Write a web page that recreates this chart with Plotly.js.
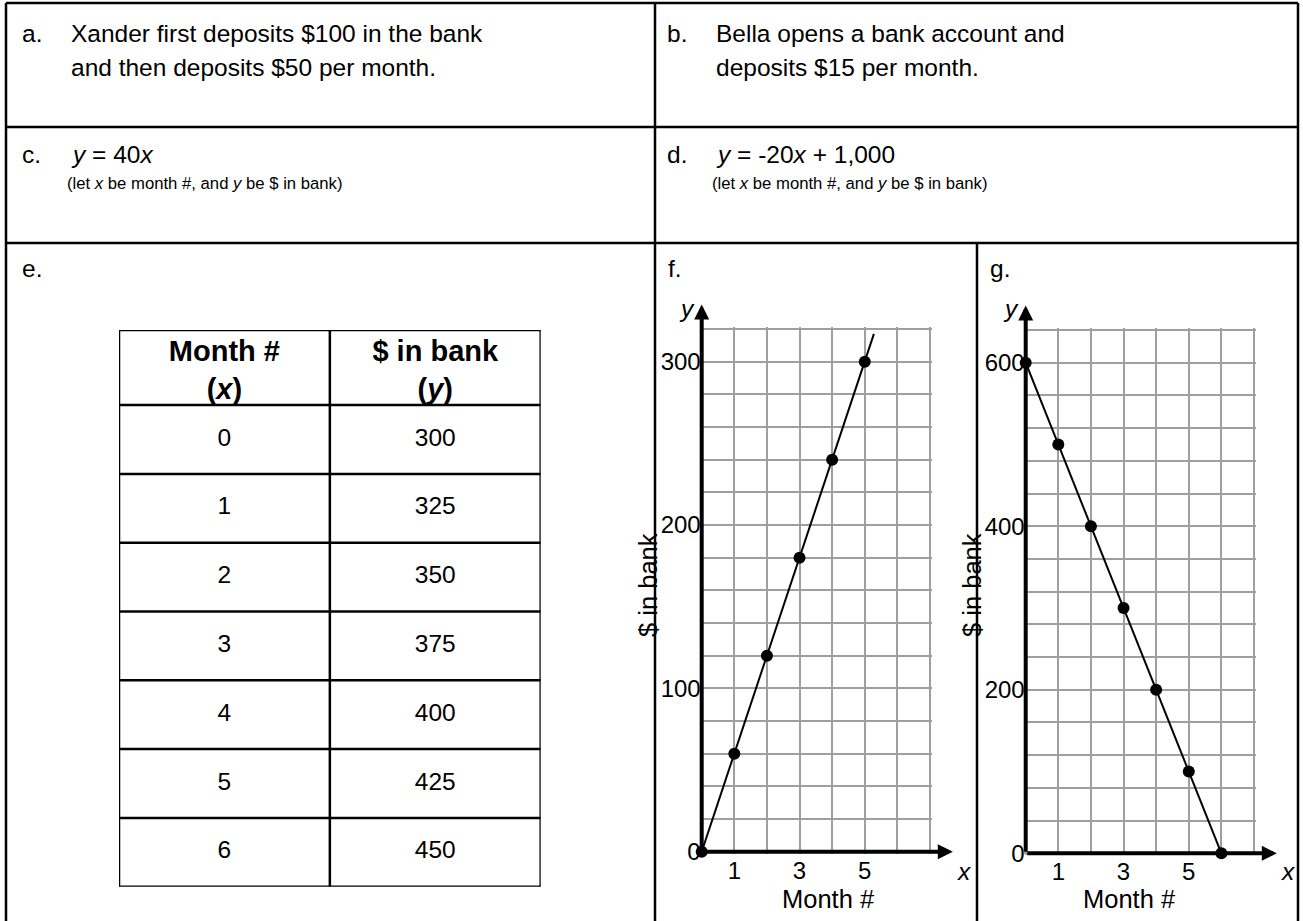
<!DOCTYPE html>
<html>
<head>
<meta charset="utf-8">
<script src="https://cdn.plot.ly/plotly-3.0.1.min.js"></script>
<style>
  html, body { margin: 0; padding: 0; background: #fff; }
  #sheet { width: 1303px; height: 921px; }
</style>
</head>
<body>
<div id="sheet"></div>
<script>
// Worksheet card: five ways to describe a bank balance (a–g). The table and the
// two graphs are drawn from the arrays below; the rest is text and cell borders.

// e. table
const tableMonths = [0, 1, 2, 3, 4, 5, 6];
const tableBank = [300, 325, 350, 375, 400, 425, 450];
const tableHeader = ["<b>Month #<br>(<i>x</i>)</b>", "<b>$ in bank<br>(<i>y</i>)</b>"];

// f. graph
const fMonths = [0, 1, 2, 3, 4, 5];
const fBank = [0, 60, 120, 180, 240, 300];
const fLineX = [0, 5.28];   // the drawn line runs a little past the last dot
const fLineY = [0, 317];

// g. graph
const gMonths = [0, 1, 2, 3, 4, 5, 6];
const gBank = [600, 500, 400, 300, 200, 100, 0];

// ticks
const monthTicks = [1, 3, 5];
const fTicks = [0, 100, 200, 300];
const gTicks = [0, 200, 400, 600];

const W = 1303, H = 921;
const FONT = "Liberation Sans, Arial, sans-serif";
const INK = "#000";
const GRID = "#9f9f9f";
const px = (v) => v / W;
const py = (v) => 1 - v / H;

// pixel anchors -> domain + padded range (padding keeps edge gridlines alive)
function fitX(p0, p1, v0, v1, pad) {
  const k = (p1 - p0) / (v1 - v0);
  return { domain: [px(p0 - pad), px(p1 + pad)], range: [v0 - pad / k, v1 + pad / k] };
}
function fitY(p0, p1, v0, v1, pad) {
  const k = (p0 - p1) / (v1 - v0);
  return { domain: [py(p0 + pad), py(p1 - pad)], range: [v0 - pad / k, v1 + pad / k] };
}

function chartX(fit, anchor) {
  return {
    ...fit, anchor, tickmode: "array", tickvals: monthTicks, ticktext: monthTicks.map(String),
    showgrid: true, gridcolor: GRID, gridwidth: 1.8,
    minor: { dtick: 1, tick0: 0, showgrid: true, gridcolor: GRID, gridwidth: 1.8, ticks: "" },
    zeroline: false, showline: false, ticks: "",
    tickfont: { family: FONT, size: 24, color: INK }, fixedrange: true,
  };
}
function chartY(fit, anchor, ticks, minorStep) {
  return {
    ...fit, anchor, tickmode: "array", tickvals: ticks, ticktext: ticks.map(String),
    showgrid: true, gridcolor: GRID, gridwidth: 1.8,
    minor: { dtick: minorStep, tick0: 0, showgrid: true, gridcolor: GRID, gridwidth: 1.8, ticks: "" },
    zeroline: false, showline: false, ticks: "", ticklabelstandoff: -2,
    tickfont: { family: FONT, size: 24, color: INK }, fixedrange: true,
  };
}

// table rows: header is a bit taller than a body row
const HEADER = 75 / 68.7;
const nRows = tableMonths.length;

const traces = [
  // f
  { x: fLineX, y: fLineY, xaxis: "x", yaxis: "y", mode: "lines",
    line: { color: INK, width: 2 }, cliponaxis: false, hoverinfo: "skip" },
  { x: fMonths, y: fBank, xaxis: "x", yaxis: "y", mode: "markers",
    marker: { color: INK, size: 12 }, cliponaxis: false },
  // g
  { x: gMonths, y: gBank, xaxis: "x2", yaxis: "y2", mode: "lines+markers",
    line: { color: INK, width: 2 }, marker: { color: INK, size: 12 }, cliponaxis: false },
  // e table header (text sits low, its last line touches the rule)
  { x: [0.5, 1.5], y: [-HEADER / 2 + 0.08, -HEADER / 2 + 0.08], text: tableHeader, xaxis: "x3", yaxis: "y3",
    mode: "text", textposition: "middle center", cliponaxis: false,
    textfont: { family: FONT, size: 29, color: INK }, hoverinfo: "skip" },
  // e table body
  { x: tableMonths.map(() => 0.5).concat(tableBank.map(() => 1.5)),
    y: tableMonths.map((_, i) => i + 0.5).concat(tableBank.map((_, i) => i + 0.5)),
    text: tableMonths.map(String).concat(tableBank.map(String)),
    xaxis: "x3", yaxis: "y3", mode: "text", textposition: "middle center", cliponaxis: false,
    textfont: { family: FONT, size: 24.5, color: INK }, hoverinfo: "skip" },
];

// sheet borders (paper px)
const line = { color: INK, width: 2.5 };
const shapes = [
  { type: "line", xref: "paper", yref: "paper", x0: px(6), x1: px(6), y0: py(3), y1: py(930), line },
  { type: "line", xref: "paper", yref: "paper", x0: px(1298), x1: px(1298), y0: py(3), y1: py(930), line },
  { type: "line", xref: "paper", yref: "paper", x0: px(6), x1: px(1298), y0: py(3), y1: py(3), line },
  { type: "line", xref: "paper", yref: "paper", x0: px(6), x1: px(1298), y0: py(127), y1: py(127), line },
  { type: "line", xref: "paper", yref: "paper", x0: px(6), x1: px(1298), y0: py(243), y1: py(243), line },
  { type: "line", xref: "paper", yref: "paper", x0: px(655), x1: px(655), y0: py(3), y1: py(930), line },
  { type: "line", xref: "paper", yref: "paper", x0: px(977), x1: px(977), y0: py(243), y1: py(930), line },
];
// table cell borders, in table units
const rowEdges = [-HEADER].concat(tableMonths.map((_, i) => i), [nRows]);
rowEdges.forEach((r) => shapes.push({ type: "line", xref: "x3", yref: "y3",
  x0: 0, x1: 2, y0: r, y1: r, line }));
[0, 1, 2].forEach((c) => shapes.push({ type: "line", xref: "x3", yref: "y3",
  x0: c, x1: c, y0: -HEADER, y1: nRows, line }));

function note(text, x, y, size, extra) {
  return Object.assign({ text, x: px(x), y: py(y), xref: "paper", yref: "paper",
    xanchor: "left", yanchor: "middle", showarrow: false,
    font: { family: FONT, size, color: INK } }, extra || {});
}
function axisArrow(xr, yr, x, y) {
  return { x, y, ax: 0, ay: 0, xref: xr, yref: yr, axref: xr, ayref: yr, text: "",
    showarrow: true, arrowhead: 2, arrowsize: 0.75, arrowwidth: 4, arrowcolor: INK, standoff: 0 };
}

const BIG = 24.5, SMALL = 16.7, LAB = 25.5;
const annotations = [
  note("a.", 20, 33, BIG),
  note("Xander first deposits $100 in the bank", 69, 33, BIG),
  note("and then deposits $50 per month.", 69, 67, BIG),
  note("b.", 665, 33, BIG),
  note("Bella opens a bank account and", 714, 33, BIG),
  note("deposits $15 per month.", 714, 67, BIG),
  note("c.", 20, 155, BIG),
  note("<i>y</i> = 40<i>x</i>", 69, 155, BIG),
  note("(let <i>x</i> be month #, and <i>y</i> be $ in bank)", 65, 184, SMALL),
  note("d.", 665, 155, BIG),
  note("<i>y</i> = -20<i>x</i> + 1,000", 714, 155, BIG),
  note("(let <i>x</i> be month #, and <i>y</i> be $ in bank)", 710, 184, SMALL),
  note("e.", 20, 268, BIG),
  note("f.", 666, 268, BIG),
  note("g.", 988, 268, BIG),
  // graph labels
  note("<i>y</i>", 687, 309, BIG, { xanchor: "center" }),
  note("<i>y</i>", 1011, 309, BIG, { xanchor: "center" }),
  note("<i>x</i>", 964, 871, BIG, { xanchor: "center" }),
  note("<i>x</i>", 1288, 871, BIG, { xanchor: "center" }),
  note("Month #", 828, 899, LAB, { xanchor: "center" }),
  note("Month #", 1129, 899, LAB, { xanchor: "center" }),
  note("$ in bank", 648, 585, LAB, { xanchor: "center", textangle: -90 }),
  note("$ in bank", 972, 585, LAB, { xanchor: "center", textangle: -90 }),
  // axes with arrow tips
  axisArrow("x", "y", 7.7, 0),
  axisArrow("x", "y", 0, 335),
  axisArrow("x2", "y2", 7.7, 0),
  axisArrow("x2", "y2", 0, 670),
];

const layout = {
  width: W, height: H, margin: { l: 0, r: 0, t: 0, b: 0 },
  paper_bgcolor: "#fff", plot_bgcolor: "rgba(0,0,0,0)", showlegend: false,
  font: { family: FONT, color: INK },
  xaxis: chartX(fitX(701.7, 930, 0, 7, 2), "y"),
  yaxis: chartY(fitY(851.7, 329, 0, 320, 2), "x", fTicks, 20),
  xaxis2: chartX(fitX(1025.7, 1254, 0, 7, 2), "y2"),
  yaxis2: chartY(fitY(853.3, 330, 0, 640, 2), "x2", gTicks, 40),
  xaxis3: { domain: [px(119), px(540.7)], range: [0, 2], visible: false, fixedrange: true, anchor: "y3" },
  yaxis3: { domain: [py(886.7), py(330)], range: [nRows, -HEADER], visible: false, fixedrange: true, anchor: "x3" },
  shapes, annotations,
};

Plotly.newPlot("sheet", traces, layout, { displayModeBar: false, responsive: false });
</script>
</body>
</html>
